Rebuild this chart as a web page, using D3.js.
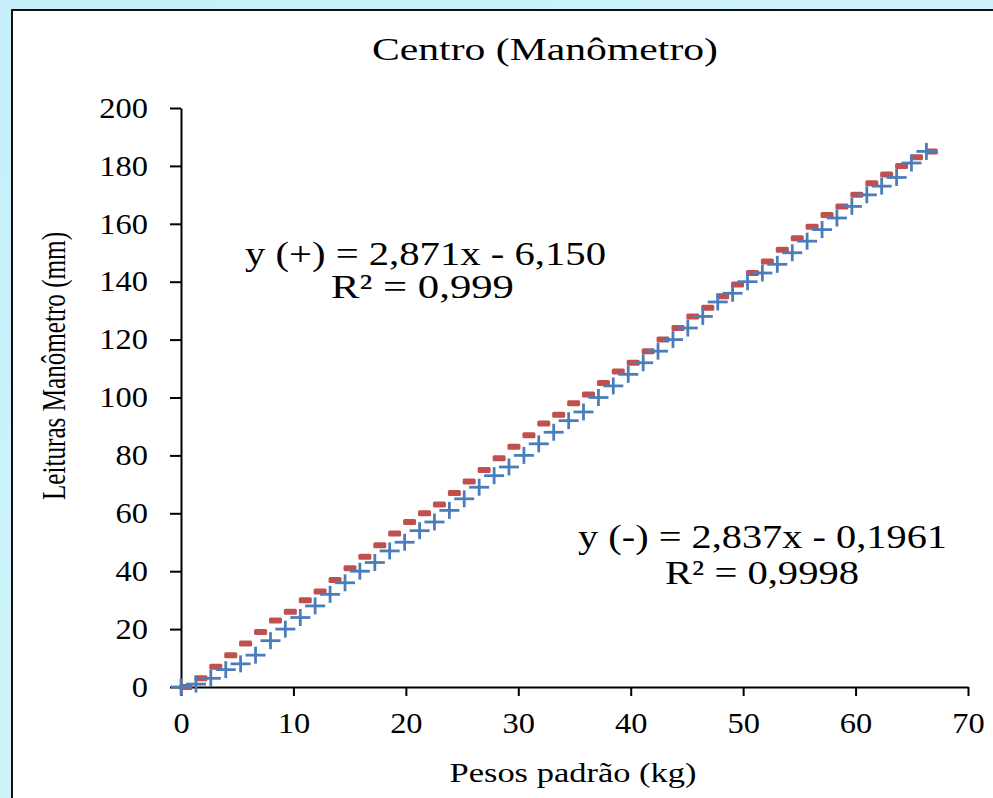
<!DOCTYPE html>
<html lang="pt">
<head>
<meta charset="UTF-8">
<title>Centro (Manômetro)</title>
<script src="https://d3js.org/d3.v7.min.js"></script>
<style>
  body { margin: 0; padding: 0; overflow: hidden; }
  svg { display: block; font-family: 'Liberation Serif', 'Times New Roman', serif; }
</style>
</head>
<body>
<svg width="993" height="798"></svg>
<script>
// pesos padrão (kg)
const pesos = [0, 1.33, 2.65, 3.98, 5.30, 6.63, 7.96, 9.28, 10.61, 11.93,
  13.26, 14.59, 15.91, 17.24, 18.56, 19.89, 21.22, 22.54, 23.87, 25.19,
  26.52, 27.85, 29.17, 30.50, 31.82, 33.15, 34.48, 35.80, 37.13, 38.45,
  39.78, 41.11, 42.43, 43.76, 45.08, 46.41, 47.74, 49.06, 50.39, 51.71,
  53.04, 54.37, 55.69, 57.02, 58.34, 59.67, 61.00, 62.32, 63.65, 64.97, 66.30];

// leituras (+) - cruz azul
const leiturasMais = [0, 1, 3, 6, 8, 11, 16, 20, 24, 28,
  32, 36, 40, 43, 47, 50, 54, 57, 61, 65,
  69, 73, 76, 80, 84, 88, 92, 95, 100, 104,
  108, 112, 116, 120, 124, 128, 133, 136, 140, 143,
  146, 150, 154, 158, 162, 166, 170, 173, 176, 181, 185];

// leituras (-) - traço vermelho
const leiturasMenos = [0, 3, 7, 11, 15, 19, 23, 26, 30, 33,
  37, 41, 45, 49, 53, 57, 60, 63, 67, 71,
  75, 79, 83, 87, 91, 94, 98, 101, 105, 109,
  112, 116, 120, 124, 128, 131, 135, 139, 143, 147,
  151, 155, 159, 163, 166, 170, 174, 177, 180, 183, 185];

const xTicks = [0, 10, 20, 30, 40, 50, 60, 70];
const yTicks = [0, 20, 40, 60, 80, 100, 120, 140, 160, 180, 200];

const svg = d3.select("svg");

// background gradient
const defs = svg.append("defs");
const grad = defs.append("linearGradient")
    .attr("id", "bg")
    .attr("x1", "0%").attr("y1", "0%")
    .attr("x2", "100%").attr("y2", "100%");
grad.append("stop").attr("offset", "0%").attr("stop-color", "#c6eff9");
grad.append("stop").attr("offset", "100%").attr("stop-color", "#d8f7fd");

svg.append("rect")
    .attr("width", 993).attr("height", 798)
    .attr("fill", "url(#bg)");

// chart area (white box, border only visible left/top)
svg.append("rect")
    .attr("x", 12).attr("y", 10)
    .attr("width", 1000).attr("height", 820)
    .attr("fill", "white")
    .attr("stroke", "#111")
    .attr("stroke-width", 2);

const xScale = d3.scaleLinear().domain([0, 70]).range([181, 968]);
const yScale = d3.scaleLinear().domain([0, 200]).range([687, 108]);

const sx = 1.12; // horizontal stretch of the labels

// axes
const xAxis = svg.append("g")
    .attr("transform", "translate(0," + yScale(0) + ")")
    .call(d3.axisBottom(xScale).tickValues(xTicks).tickSize(9).tickPadding(16).tickSizeOuter(0));
const yAxis = svg.append("g")
    .attr("transform", "translate(" + xScale(0) + ",0)")
    .call(d3.axisLeft(yScale).tickValues(yTicks).tickSize(11).tickSizeOuter(0));

[xAxis, yAxis].forEach(function(ax) {
    ax.select(".domain").attr("stroke", "#000").attr("stroke-width", 2);
    ax.selectAll(".tick line").attr("stroke", "#000").attr("stroke-width", 2);
    ax.selectAll(".tick text")
      .attr("fill", "#000")
      .attr("transform", "scale(" + sx + ",1)")
      .style("font-family", "'Liberation Serif', serif")
      .style("font-size", "29px");
});
xAxis.selectAll(".tick text").attr("dy", "0.71em");
yAxis.selectAll(".tick text").attr("x", -33 / sx);

// red dashes (-)
svg.selectAll(".menos")
    .data(pesos)
    .enter()
    .append("rect")
    .attr("class", "menos")
    .attr("x", function(d) { return xScale(d) - 1.5; })
    .attr("y", function(d, i) { return yScale(leiturasMenos[i]) - 3; })
    .attr("width", 13)
    .attr("height", 6)
    .attr("rx", 1.5)
    .attr("fill", "#c0504d");

// blue crosses (+)
const cruz = svg.selectAll(".mais")
    .data(pesos)
    .enter()
    .append("g")
    .attr("class", "mais")
    .attr("transform", function(d, i) {
        return "translate(" + xScale(d) + "," + yScale(leiturasMais[i]) + ")";
    });
cruz.append("line")
    .attr("x1", -10).attr("x2", 10).attr("y1", 0).attr("y2", 0)
    .attr("stroke", "#4a7ebb").attr("stroke-width", 2.8);
cruz.append("line")
    .attr("x1", 0).attr("x2", 0).attr("y1", -8.5).attr("y2", 8.5)
    .attr("stroke", "#4a7ebb").attr("stroke-width", 2.8);

// title, axis titles and trend equations
const textos = [
    { t: "Centro (Manômetro)", x: 545, y: 60, size: 32, len: 346 },
    { t: "Pesos padrão (kg)", x: 573, y: 782, size: 27, len: 247 },
    { t: "y (+) = 2,871x - 6,150", x: 425.5, y: 265, size: 33, len: 361 },
    { t: "R² = 0,999", x: 422.5, y: 298, size: 33, len: 183 },
    { t: "y (-) = 2,837x - 0,1961", x: 762.5, y: 548, size: 33, len: 369 },
    { t: "R² = 0,9998", x: 762, y: 584, size: 33, len: 194 }
];
svg.selectAll(".txt")
    .data(textos)
    .enter()
    .append("text")
    .attr("class", "txt")
    .attr("x", function(d) { return d.x; })
    .attr("y", function(d) { return d.y; })
    .attr("text-anchor", "middle")
    .attr("textLength", function(d) { return d.len; })
    .attr("lengthAdjust", "spacingAndGlyphs")
    .style("font-size", function(d) { return d.size + "px"; })
    .text(function(d) { return d.t; });

svg.append("text")
    .attr("transform", "translate(65,366) rotate(-90)")
    .attr("text-anchor", "middle")
    .attr("textLength", 268)
    .attr("lengthAdjust", "spacingAndGlyphs")
    .style("font-size", "34px")
    .text("Leituras Manômetro (mm)");
</script>
</body>
</html>
